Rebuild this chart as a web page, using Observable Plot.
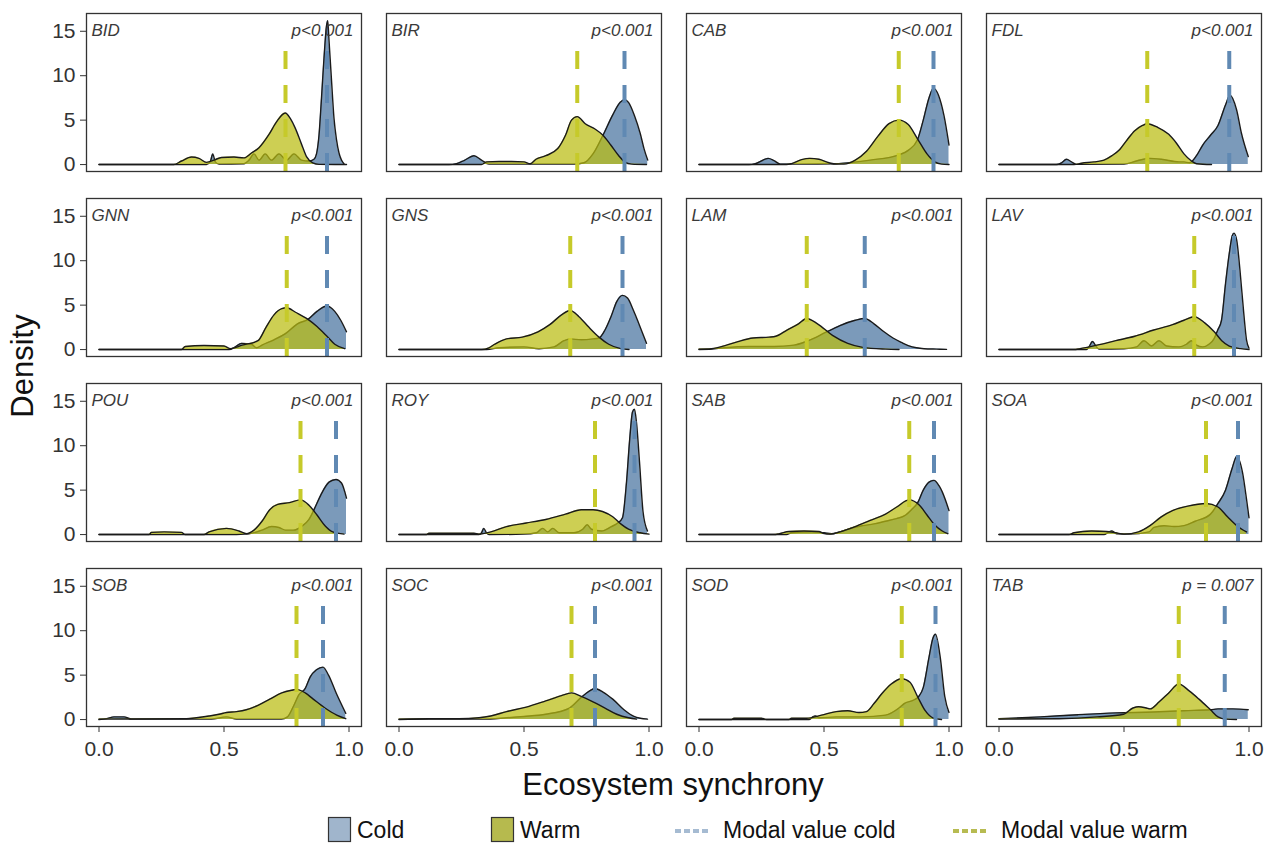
<!DOCTYPE html>
<html><head><meta charset="utf-8">
<script src="https://cdn.jsdelivr.net/npm/d3@7"></script>
<script src="https://cdn.jsdelivr.net/npm/@observablehq/plot@0.6"></script>
<style>
body{margin:0;background:#fff;font-family:"Liberation Sans",Arial,sans-serif;}
#wrap{position:relative;width:1275px;}
svg{display:block;}
</style></head><body><div id="wrap"></div>
<script>
const sites = ["BID","BIR","CAB","FDL","GNN","GNS","LAM","LAV","POU","ROY","SAB","SOA","SOB","SOC","SOD","TAB"];
const pLabels = ["p<0.001","p<0.001","p<0.001","p<0.001","p<0.001","p<0.001","p<0.001","p<0.001","p<0.001","p<0.001","p<0.001","p<0.001","p<0.001","p<0.001","p<0.001","p = 0.007"];
const modeCold = [0.912,0.902,0.938,0.921,0.912,0.894,0.663,0.94,0.948,0.942,0.94,0.956,0.896,0.784,0.946,0.903];
const modeWarm = [0.746,0.713,0.799,0.593,0.751,0.685,0.431,0.781,0.806,0.784,0.841,0.828,0.79,0.69,0.811,0.719];
const xTicks = [0, 0.5, 1.0];
const yTicks = [0, 5, 10, 15];

const BID_cold = [[0,0],[0.43,0],[0.445,0.3],[0.455,1.2],[0.465,0.3],[0.48,0.05],[0.58,0.1],[0.6,0.5],[0.62,1.2],[0.64,0.5],[0.665,1.2],[0.69,0.5],[0.72,1.2],[0.75,0.5],[0.78,1.2],[0.81,0.5],[0.84,0.4],[0.86,0.6],[0.87,1.2],[0.88,3.3],[0.89,7.5],[0.90,12],[0.91,15.6],[0.915,16.2],[0.92,14],[0.93,9.5],[0.94,5.2],[0.95,2.8],[0.96,1.3],[0.97,0.5],[0.98,0.1]];
const BID_warm = [[0,0],[0.3,0],[0.33,0.4],[0.37,0.85],[0.40,0.7],[0.43,0.25],[0.46,0.5],[0.49,0.8],[0.54,0.85],[0.58,0.75],[0.61,1.3],[0.64,1.9],[0.68,3.4],[0.71,4.8],[0.745,5.8],[0.765,5.2],[0.785,4.1],[0.81,2.3],[0.83,0.9],[0.855,0.2],[0.88,0.02],[0.99,0]];
const BIR_cold = [[0,0],[0.2,0],[0.23,0.1],[0.26,0.45],[0.30,1.0],[0.33,0.5],[0.36,0.05],[0.5,0.05],[0.7,0.05],[0.74,0.2],[0.776,1.2],[0.816,3.3],[0.855,5.6],[0.885,7.0],[0.902,7.3],[0.918,7.0],[0.942,5.5],[0.965,3.5],[0.98,1.8],[0.995,0.5]];
const BIR_warm = [[0,0],[0.33,0],[0.35,0.3],[0.40,0.35],[0.45,0.35],[0.50,0.3],[0.525,0.1],[0.548,0.6],[0.587,1.0],[0.635,1.8],[0.666,3.3],[0.69,5.0],[0.713,5.4],[0.745,4.6],[0.784,4.0],[0.816,3.3],[0.847,2.2],[0.879,1.0],[0.902,0.3],[0.93,0.05],[0.99,0]];
const CAB_cold = [[0,0],[0.2,0],[0.225,0.1],[0.26,0.55],[0.277,0.7],[0.30,0.45],[0.325,0.05],[0.4,0.05],[0.55,0.1],[0.6,0.2],[0.685,0.5],[0.8,1.1],[0.837,1.6],[0.874,2.8],[0.897,5.0],[0.92,7.5],[0.938,8.6],[0.958,7.8],[0.98,5.5],[1.0,2.2]];
const CAB_warm = [[0,0],[0.35,0],[0.37,0.1],[0.41,0.55],[0.443,0.7],[0.48,0.6],[0.52,0.2],[0.55,0.05],[0.58,0.05],[0.625,0.5],[0.67,1.5],[0.716,3.2],[0.76,4.6],[0.8,5.0],[0.837,4.5],[0.874,2.9],[0.912,1.2],[0.943,0.3],[0.97,0.05],[1.0,0]];
const FDL_cold = [[0,0],[0.23,0],[0.25,0.2],[0.27,0.6],[0.29,0.3],[0.31,0.02],[0.5,0.05],[0.55,0.4],[0.6,0.7],[0.65,0.6],[0.72,0.3],[0.74,0.3],[0.762,0.2],[0.79,1.0],[0.815,2.2],[0.846,3.3],[0.876,4.4],[0.906,6.7],[0.924,7.8],[0.95,6.2],[0.97,3.5],[0.997,0.9]];
const FDL_warm = [[0,0],[0.3,0],[0.33,0.15],[0.38,0.3],[0.42,0.5],[0.452,1.0],[0.483,1.7],[0.513,2.8],[0.543,3.8],[0.574,4.4],[0.593,4.6],[0.634,4.2],[0.679,3.4],[0.71,2.4],[0.74,1.2],[0.77,0.4],[0.79,0.1],[0.85,0]];
const GNN_cold = [[0,0],[0.52,0],[0.545,0.3],[0.57,0.7],[0.61,0.6],[0.63,0.2],[0.652,0.5],[0.7,1.1],[0.746,1.8],[0.794,2.9],[0.836,3.4],[0.872,4.3],[0.912,4.9],[0.943,4.3],[0.967,3.3],[0.99,2.0]];
const GNN_warm = [[0,0],[0.33,0],[0.345,0.35],[0.42,0.45],[0.5,0.4],[0.526,0.1],[0.573,0.5],[0.636,1.0],[0.668,2.5],[0.70,3.9],[0.731,4.6],[0.751,4.7],[0.786,4.2],[0.836,3.4],[0.872,2.6],[0.912,1.5],[0.943,0.6],[0.983,0.1]];
const GNS_cold = [[0,0],[0.35,0],[0.4,0.2],[0.5,0.3],[0.56,0.1],[0.62,0.3],[0.66,1.0],[0.685,1.2],[0.729,1.1],[0.776,1.2],[0.8,1.3],[0.824,2.2],[0.848,3.7],[0.871,5.4],[0.894,6.1],[0.914,5.8],[0.938,4.4],[0.961,2.8],[0.99,0.7]];
const GNS_warm = [[0,0],[0.33,0],[0.36,0.2],[0.383,0.6],[0.43,1.2],[0.493,1.4],[0.556,2.0],[0.603,2.8],[0.65,3.9],[0.685,4.4],[0.72,3.7],[0.76,2.5],[0.8,1.4],[0.839,0.6],[0.887,0.1],[0.92,0]];
const LAM_cold = [[0,0],[0.05,0.05],[0.1,0.2],[0.2,0.35],[0.3,0.35],[0.38,0.5],[0.428,0.9],[0.47,1.4],[0.504,1.9],[0.534,2.3],[0.564,2.7],[0.625,3.3],[0.663,3.5],[0.7,2.9],[0.74,2.0],[0.776,1.3],[0.81,0.8],[0.837,0.45],[0.87,0.2],[0.9,0.1],[0.95,0.05],[0.99,0.02]];
const LAM_warm = [[0,0.05],[0.05,0.1],[0.11,0.5],[0.156,0.9],[0.216,1.3],[0.28,1.4],[0.307,1.5],[0.352,2.2],[0.398,2.9],[0.431,3.5],[0.474,2.9],[0.534,1.6],[0.595,0.7],[0.655,0.25],[0.746,0.05],[0.8,0]];
const LAV_cold = [[0,0],[0.35,0],[0.36,0.3],[0.374,0.9],[0.39,0.3],[0.40,0.05],[0.5,0.1],[0.55,0.3],[0.58,1.0],[0.61,0.4],[0.64,1.0],[0.67,0.4],[0.72,0.3],[0.75,0.6],[0.77,1.0],[0.79,0.5],[0.815,0.3],[0.84,0.6],[0.86,1.2],[0.875,2.2],[0.89,3.3],[0.906,7.4],[0.921,10.8],[0.933,12.8],[0.94,13.1],[0.951,12.3],[0.964,8.9],[0.979,4.1],[0.99,1.1],[1.0,0.15]];
const LAV_warm = [[0,0],[0.3,0],[0.324,0.1],[0.392,0.5],[0.467,1.0],[0.543,1.5],[0.619,2.2],[0.694,2.8],[0.74,3.3],[0.781,3.7],[0.823,3.0],[0.861,2.0],[0.891,1.0],[0.921,0.4],[0.967,0.1],[1.0,0]];
const POU_cold = [[0,0],[0.5,0],[0.6,0.1],[0.652,0.5],[0.69,0.9],[0.72,0.8],[0.746,0.5],[0.778,0.5],[0.81,0.9],[0.84,1.7],[0.865,3.1],[0.888,4.5],[0.92,5.9],[0.948,6.2],[0.97,5.8],[0.99,4.1]];
const POU_warm = [[0,0],[0.2,0],[0.21,0.25],[0.26,0.3],[0.33,0.25],[0.345,0],[0.42,0],[0.44,0.3],[0.51,0.7],[0.56,0.4],[0.59,0.1],[0.62,0.5],[0.652,1.5],[0.683,2.8],[0.715,3.4],[0.762,3.6],[0.806,3.9],[0.84,3.3],[0.872,2.2],[0.904,1.0],[0.935,0.3],[0.98,0.05]];
const ROY_cold = [[0,0],[0.32,0],[0.33,0.2],[0.339,0.7],[0.35,0.2],[0.36,0],[0.5,0.05],[0.55,0.2],[0.575,0.7],[0.595,0.3],[0.615,0.7],[0.64,0.2],[0.7,0.2],[0.735,0.6],[0.753,1.1],[0.77,0.6],[0.81,0.4],[0.85,0.9],[0.875,1.3],[0.894,1.9],[0.91,5.9],[0.923,10.8],[0.934,13.8],[0.942,14.1],[0.95,12.6],[0.962,8.2],[0.976,2.6],[0.994,0.4]];
const ROY_warm = [[0,0],[0.11,0],[0.12,0.15],[0.3,0.15],[0.32,0.05],[0.367,0.3],[0.43,0.9],[0.509,1.3],[0.587,1.7],[0.666,2.3],[0.729,2.8],[0.776,2.8],[0.814,2.6],[0.855,2.0],[0.887,1.2],[0.918,0.6],[0.965,0.2],[1.0,0.05]];
const SAB_cold = [[0,0],[0.35,0],[0.37,0.2],[0.45,0.3],[0.5,0.2],[0.53,0.1],[0.564,0.3],[0.62,0.8],[0.655,1.0],[0.7,1.2],[0.746,1.5],[0.79,1.8],[0.821,2.1],[0.85,2.8],[0.875,3.6],[0.897,5.0],[0.92,5.9],[0.94,6.1],[0.96,5.5],[0.973,4.8],[1.0,2.7]];
const SAB_warm = [[0,0],[0.3,0],[0.322,0.1],[0.36,0.35],[0.42,0.4],[0.48,0.35],[0.496,0.15],[0.526,0.05],[0.564,0.3],[0.625,0.9],[0.685,1.6],[0.746,2.3],[0.791,3.1],[0.841,3.9],[0.882,3.3],[0.912,2.2],[0.942,1.1],[0.973,0.4],[0.995,0.1]];
const SOA_cold = [[0,0],[0.42,0],[0.44,0.3],[0.452,0.4],[0.47,0.1],[0.52,0.05],[0.6,0.3],[0.62,0.8],[0.66,1.0],[0.7,0.9],[0.74,1.0],[0.785,1.5],[0.846,2.3],[0.876,3.5],[0.906,5.0],[0.933,7.5],[0.951,8.8],[0.974,7.0],[0.99,4.0],[1.0,1.9]];
const SOA_warm = [[0,0],[0.28,0],[0.3,0.2],[0.37,0.4],[0.43,0.35],[0.467,0.2],[0.5,0.05],[0.558,0.3],[0.604,1.0],[0.649,2.0],[0.694,2.7],[0.755,3.2],[0.828,3.5],[0.876,3.1],[0.914,2.0],[0.951,1.0],[0.99,0.3]];
const SOB_cold = [[0,0],[0.03,0.1],[0.06,0.3],[0.1,0.3],[0.13,0.05],[0.45,0.05],[0.51,0.3],[0.55,0.05],[0.73,0.05],[0.754,0.3],[0.778,1.5],[0.8,2.8],[0.825,3.5],[0.845,4.8],[0.87,5.6],[0.896,5.9],[0.918,5.0],[0.95,2.9],[0.987,0.7]];
const SOB_warm = [[0,0.05],[0.35,0.1],[0.39,0.2],[0.44,0.4],[0.48,0.6],[0.51,0.8],[0.55,0.9],[0.589,1.1],[0.636,1.6],[0.683,2.3],[0.731,3.0],[0.77,3.3],[0.79,3.4],[0.825,3.0],[0.857,2.3],[0.904,1.3],[0.951,0.5],[0.987,0.1]];
const SOC_cold = [[0,0],[0.12,0.05],[0.24,0.05],[0.335,0.05],[0.43,0.2],[0.5,0.35],[0.587,0.6],[0.682,1.3],[0.729,2.5],[0.761,3.2],[0.784,3.5],[0.816,3.1],[0.855,2.3],[0.9,1.1],[0.94,0.35],[0.965,0.15],[0.994,0.05]];
const SOC_warm = [[0,0.05],[0.12,0.1],[0.24,0.1],[0.32,0.2],[0.367,0.4],[0.43,0.9],[0.509,1.4],[0.587,2.1],[0.65,2.7],[0.69,3.0],[0.729,2.6],[0.776,2.0],[0.824,1.3],[0.871,0.6],[0.918,0.2],[0.95,0.05]];
const SOD_cold = [[0,0],[0.44,0],[0.455,0.3],[0.466,0.4],[0.48,0.2],[0.55,0.3],[0.65,0.3],[0.746,0.5],[0.8,1.3],[0.821,1.8],[0.859,2.2],[0.879,2.6],[0.897,3.6],[0.92,7.0],[0.935,9.1],[0.946,9.6],[0.965,7.0],[0.983,2.6],[1.0,0.8]];
const SOD_warm = [[0,0],[0.13,0],[0.14,0.15],[0.25,0.15],[0.27,0],[0.36,0],[0.37,0.15],[0.43,0.15],[0.49,0.5],[0.549,0.9],[0.595,1.0],[0.64,0.8],[0.67,0.9],[0.7,1.8],[0.731,2.9],[0.769,4.0],[0.811,4.6],[0.844,4.2],[0.874,2.6],[0.905,1.0],[0.935,0.2],[0.97,0]];
const TAB_cold = [[0,0.1],[0.165,0.3],[0.316,0.55],[0.467,0.75],[0.619,0.85],[0.74,1.0],[0.846,1.1],[0.876,1.2],[0.936,1.2],[0.997,1.1]];
const TAB_warm = [[0,0.05],[0.24,0.1],[0.392,0.3],[0.498,0.6],[0.536,1.3],[0.558,1.45],[0.59,1.3],[0.604,1.2],[0.641,2.0],[0.679,3.0],[0.719,4.0],[0.762,3.2],[0.8,2.3],[0.846,1.1],[0.876,0.3],[0.906,0.05],[0.95,0]];

const coldCurves = [BID_cold,BIR_cold,CAB_cold,FDL_cold,GNN_cold,GNS_cold,LAM_cold,LAV_cold,POU_cold,ROY_cold,SAB_cold,SOA_cold,SOB_cold,SOC_cold,SOD_cold,TAB_cold];
const warmCurves = [BID_warm,BIR_warm,CAB_warm,FDL_warm,GNN_warm,GNS_warm,LAM_warm,LAV_warm,POU_warm,ROY_warm,SAB_warm,SOA_warm,SOB_warm,SOC_warm,SOD_warm,TAB_warm];

const COLD_FILL = "#7b9aba", WARM_FILL = "#babd10", WARM_OP = 0.72;
const COLD_LINE = "#6089b3", WARM_LINE = "#c6ca2a";
const Y_LO = -0.78, Y_HI = 17.0, MODE_TOP = 14.5;

const toRows = curves => curves.flatMap((pts, i) => pts.map(([x, y]) => ({site: sites[i], col: i % 4, row: Math.floor(i / 4), x, y})));
const coldRows = toRows(coldCurves);
const warmRows = toRows(warmCurves);
const panelRows = sites.map((s, i) => ({site: s, p: pLabels[i], col: i % 4, row: Math.floor(i / 4), mc: modeCold[i], mw: modeWarm[i]}));

const H = 805;
const chart = Plot.plot({
  width: 1275, height: H,
  marginLeft: 84, marginRight: 12, marginTop: 11, marginBottom: H - 728,
  style: {fontFamily: "'Liberation Sans', Arial, sans-serif", fontSize: "21px", color: "#333", background: "white"},
  fx: {axis: null, paddingInner: 0.083, paddingOuter: 0},
  fy: {axis: null, paddingInner: 0.145, paddingOuter: 0},
  x: {domain: [-0.05, 1.05], ticks: xTicks, tickFormat: d3.format(".1f"), tickSize: 6, tickPadding: 9, label: null},
  y: {domain: [Y_LO, Y_HI], ticks: yTicks, tickSize: 6, tickPadding: 5, label: null},
  marks: [
    Plot.areaY(coldRows, {fx: "col", fy: "row", x: "x", y: "y", z: "site", fill: COLD_FILL, curve: "monotone-x"}),
    Plot.lineY(coldRows, {fx: "col", fy: "row", x: "x", y: "y", z: "site", stroke: "#1a1a1a", strokeWidth: 1.4, curve: "monotone-x"}),
    Plot.areaY(warmRows, {fx: "col", fy: "row", x: "x", y: "y", z: "site", fill: WARM_FILL, fillOpacity: WARM_OP, curve: "monotone-x"}),
    Plot.lineY(warmRows, {fx: "col", fy: "row", x: "x", y: "y", z: "site", stroke: "#1a1a1a", strokeWidth: 1.4, curve: "monotone-x"}),
    Plot.ruleX(panelRows, {fx: "col", fy: "row", x: "mw", y1: Y_LO, y2: MODE_TOP, stroke: WARM_LINE, strokeWidth: 4, strokeDasharray: "18,16"}),
    Plot.ruleX(panelRows, {fx: "col", fy: "row", x: "mc", y1: Y_LO, y2: MODE_TOP, stroke: COLD_LINE, strokeWidth: 4, strokeDasharray: "18,16"}),
    Plot.text(panelRows, {fx: "col", fy: "row", text: "site", frameAnchor: "top-left", lineAnchor: "top", dx: 5, dy: 10, fontSize: 17, fontStyle: "italic", fill: "#3a3a3a"}),
    Plot.text(panelRows, {fx: "col", fy: "row", text: "p", frameAnchor: "top-right", lineAnchor: "top", dx: -8, dy: 10, fontSize: 17, fontStyle: "italic", fill: "#3a3a3a"}),
    Plot.frame({stroke: "#333", strokeWidth: 1.3})
  ]
});
const wrap = document.getElementById("wrap");
wrap.appendChild(chart);

// axis titles
const s = d3.select(chart);
s.append("text").attr("x", 673).attr("y", 795).attr("text-anchor", "middle")
  .attr("font-size", 31).attr("fill", "#111").text("Ecosystem synchrony");
s.append("text").attr("transform", "translate(33,366) rotate(-90)").attr("text-anchor", "middle")
  .attr("font-size", 31).attr("fill", "#111").text("Density");

// legend below
const legendItems = [
  {type: "box", label: "Cold", color: "#a0b5cc", x: 328},
  {type: "box", label: "Warm", color: "#b6ba4e", x: 491},
  {type: "dash", label: "Modal value cold", color: "#a6bbd2", x: 675},
  {type: "dash", label: "Modal value warm", color: "#b7bb52", x: 953}
];
const leg = d3.select(wrap).append("svg").attr("width", 1275).attr("height", 38)
  .style("font-family", "'Liberation Sans', Arial, sans-serif");
for (const it of legendItems) {
  if (it.type === "box") {
    leg.append("rect").attr("x", it.x + 0.5).attr("y", 12.5).attr("width", 22).attr("height", 24)
      .attr("fill", it.color).attr("stroke", "#333").attr("stroke-width", 1.2);
    leg.append("text").attr("x", it.x + 29).attr("y", 33).attr("font-size", 23).attr("fill", "#111").text(it.label);
  } else {
    leg.append("line").attr("x1", it.x).attr("x2", it.x + 33).attr("y1", 26).attr("y2", 26)
      .attr("stroke", it.color).attr("stroke-width", 4).attr("stroke-dasharray", "6,3");
    leg.append("text").attr("x", it.x + 48).attr("y", 33).attr("font-size", 23).attr("fill", "#111").text(it.label);
  }
}
</script></body></html>
